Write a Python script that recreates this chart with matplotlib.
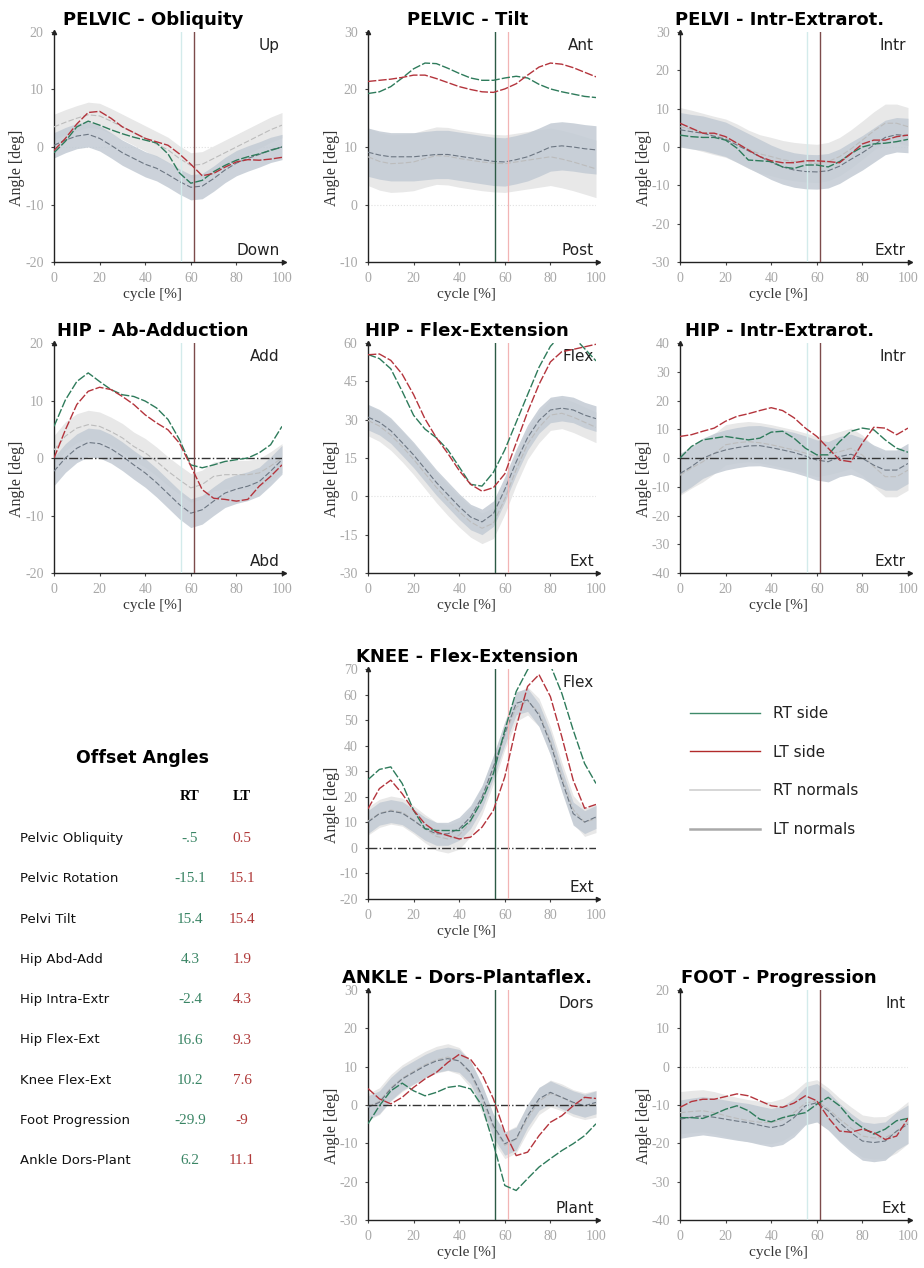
import matplotlib
matplotlib.use('Agg')
import matplotlib.pyplot as plt
from matplotlib.lines import Line2D
import numpy as np

######## ######## DATA ######## ########

# gait cycle samples [%]
cycle = list(range(0, 101, 5))
toe_off = [55.5, 61.5]   # RT, LT

# pelvic obliquity
obl_rt = [-1.0, 1.0, 3.5, 4.5, 3.8, 3.0, 2.3, 1.7, 1.2, 0.7, -1.2, -4.5, -6.3, -5.8, -4.3, -3.2, -2.3, -1.7, -1.2, -0.6, 0.0]
obl_lt = [-0.6, 1.5, 4.0, 6.0, 6.2, 5.0, 3.5, 2.5, 1.5, 0.9, 0.3, -1.2, -3.0, -5.0, -4.6, -3.5, -2.6, -2.2, -2.3, -2.1, -1.8]
obl_nrt = [3.5, 4.3, 5.0, 5.6, 5.4, 4.5, 3.5, 2.5, 1.5, 0.5, -0.5, -2.0, -3.2, -3.0, -2.0, -1.0, 0.0, 1.0, 2.0, 3.0, 3.8]
obl_nlt = [0.3, 1.2, 1.9, 2.2, 1.5, 0.3, -1.0, -2.0, -3.0, -3.7, -4.8, -6.0, -7.0, -6.8, -5.5, -4.0, -2.8, -2.0, -1.3, -0.5, 0.0]

# pelvic tilt
tilt_rt = [19.3, 19.6, 20.5, 22.0, 23.6, 24.6, 24.5, 23.7, 22.8, 22.0, 21.6, 21.6, 22.0, 22.3, 22.0, 20.9, 20.1, 19.6, 19.2, 18.8, 18.6]
tilt_lt = [21.4, 21.6, 21.8, 22.1, 22.5, 22.5, 21.9, 21.2, 20.5, 20.0, 19.6, 19.5, 20.1, 21.0, 22.5, 23.9, 24.6, 24.4, 23.8, 23.0, 22.2]
tilt_nrt = [8.3, 7.5, 7.1, 7.2, 7.4, 8.0, 8.5, 8.4, 8.0, 7.7, 7.4, 7.2, 7.1, 7.4, 7.7, 8.0, 8.3, 7.9, 7.4, 6.8, 6.2]
tilt_nlt = [9.1, 8.6, 8.3, 8.3, 8.3, 8.5, 8.7, 8.7, 8.4, 8.1, 7.8, 7.5, 7.4, 7.8, 8.3, 9.1, 10.0, 10.2, 10.0, 9.7, 9.5]

# pelvic rotation
prot_rt = [3.1, 2.7, 2.5, 2.5, 1.8, -0.3, -3.4, -3.6, -3.8, -5.2, -5.6, -4.7, -4.7, -5.2, -3.8, -1.7, 0.0, 0.8, 1.0, 1.4, 2.0]
prot_lt = [6.2, 4.9, 3.6, 3.6, 2.7, 1.0, -0.8, -2.5, -3.6, -4.1, -4.1, -3.6, -3.6, -3.8, -4.1, -1.7, 0.8, 1.8, 1.8, 2.7, 3.1]
prot_nrt = [5.3, 4.6, 3.8, 3.0, 2.3, 1.0, -0.6, -1.8, -2.5, -3.3, -3.8, -4.1, -4.3, -3.8, -2.5, -0.5, 1.8, 4.2, 6.2, 6.2, 5.3]
prot_nlt = [4.5, 4.0, 3.6, 2.8, 2.0, 0.5, -1.0, -2.5, -4.0, -5.2, -6.0, -6.4, -6.5, -6.2, -5.0, -3.2, -1.5, 0.5, 2.5, 3.2, 3.0]

# hip ab-adduction
hab_rt = [5.5, 10.1, 13.3, 14.8, 13.3, 11.9, 11.0, 10.7, 9.9, 8.7, 6.7, 3.2, -1.2, -1.7, -1.2, -0.6, -0.3, 0.0, 0.9, 2.3, 5.5]
hab_lt = [0.0, 4.9, 9.3, 11.6, 12.3, 11.9, 10.7, 9.3, 7.5, 6.1, 4.9, 2.6, -1.4, -5.5, -7.0, -7.2, -7.5, -7.2, -4.9, -3.2, -1.2]
hab_nrt = [1.4, 3.8, 5.2, 5.8, 5.5, 4.6, 3.5, 2.0, 0.9, -0.6, -2.3, -3.8, -5.2, -4.6, -3.2, -2.9, -2.9, -2.9, -2.6, -1.4, 0.0]
hab_nlt = [-2.3, 0.0, 1.7, 2.7, 2.5, 1.6, 0.3, -1.2, -2.6, -4.3, -6.2, -8.1, -9.6, -9.0, -7.5, -6.1, -5.4, -4.9, -4.1, -2.3, -0.3]

# hip flex-extension
hfl_rt = [55.5, 53.9, 49.9, 41.1, 31.7, 26.3, 22.9, 18.2, 11.5, 4.7, 4.0, 9.4, 18.2, 29.0, 39.8, 50.5, 58.7, 63.5, 62.5, 57.8, 53.0]
hfl_lt = [55.4, 55.7, 53.2, 47.8, 39.8, 30.3, 22.9, 16.8, 10.1, 4.7, 2.0, 3.4, 8.8, 20.9, 33.0, 43.8, 52.6, 56.6, 57.5, 58.5, 59.5]
hfl_nrt = [29.7, 27.5, 24.0, 19.5, 14.5, 9.0, 3.5, -1.5, -6.0, -10.0, -12.5, -10.5, -1.0, 10.5, 20.5, 27.0, 31.8, 32.5, 31.0, 29.0, 27.0]
hfl_nlt = [31.0, 29.0, 25.7, 21.0, 16.2, 10.8, 5.4, 0.7, -4.0, -8.1, -10.0, -6.8, 2.7, 13.5, 23.0, 29.7, 33.8, 34.5, 33.8, 31.8, 30.4]

# hip rotation
hrot_rt = [0.0, 4.0, 6.3, 6.9, 7.5, 6.9, 6.3, 6.9, 9.0, 9.3, 6.9, 3.4, 1.1, 1.1, 5.7, 9.3, 10.4, 9.8, 6.3, 3.4, 2.0]
hrot_lt = [7.5, 8.1, 9.3, 10.4, 12.8, 14.5, 15.4, 16.5, 17.5, 16.5, 14.0, 10.4, 7.5, 3.4, -0.7, -1.3, 5.2, 10.7, 10.4, 8.1, 10.4]
hrot_nrt = [-6.0, -3.5, -1.3, 1.5, 4.6, 5.3, 5.7, 5.3, 4.6, 3.7, 2.8, 1.7, 0.5, 1.2, 2.2, 3.4, 1.0, -3.0, -6.5, -6.5, -4.2]
hrot_nlt = [-5.4, -3.0, -0.1, 1.6, 2.8, 3.6, 4.2, 4.3, 3.6, 2.8, 1.9, 0.7, -0.7, -1.3, 0.5, 1.3, -0.1, -2.5, -4.2, -4.2, -1.9]

# knee flex-extension
knee_rt = [26.7, 30.7, 31.7, 25.2, 14.7, 7.5, 6.8, 6.8, 6.8, 10.7, 18.6, 29.1, 46.1, 61.2, 69.7, 73.0, 71.5, 60.5, 46.1, 33.0, 25.2]
knee_lt = [15.3, 23.2, 26.5, 21.2, 14.7, 9.4, 6.2, 4.8, 3.5, 4.2, 8.1, 14.7, 27.8, 47.4, 63.2, 67.8, 59.2, 43.5, 26.5, 15.5, 17.0]
knee_nrt = [10.5, 13.5, 14.8, 14.0, 11.0, 7.5, 4.5, 3.5, 5.0, 10.0, 18.5, 30.5, 44.0, 55.0, 57.5, 53.0, 42.0, 28.0, 15.0, 10.0, 11.5]
knee_nlt = [10.1, 13.4, 14.4, 13.6, 10.7, 7.5, 5.5, 5.5, 7.5, 12.1, 19.9, 31.7, 44.8, 56.6, 57.9, 52.0, 40.9, 26.5, 13.4, 10.1, 12.1]

# ankle dors-plantarflexion
ank_rt = [-4.9, -0.2, 3.7, 5.7, 3.7, 2.4, 3.3, 4.6, 5.0, 4.2, -0.2, -10.1, -21.0, -22.3, -19.2, -16.2, -14.0, -11.9, -10.1, -8.0, -4.9]
ank_lt = [4.3, 1.6, 0.3, 2.0, 4.6, 6.8, 8.5, 11.1, 13.2, 11.9, 8.0, 1.6, -7.1, -13.2, -12.3, -8.0, -4.5, -2.8, -0.2, 2.0, 1.7]
ank_nrt = [-0.5, 1.0, 4.5, 7.0, 8.8, 10.5, 11.8, 12.5, 11.5, 8.0, 1.5, -6.0, -10.5, -9.0, -3.5, 1.0, 3.0, 2.0, 0.5, -0.3, 0.3]
ank_nlt = [-0.6, 0.7, 4.2, 6.8, 8.5, 10.2, 11.5, 12.1, 11.5, 8.5, 2.4, -5.4, -10.1, -8.8, -2.8, 1.6, 3.3, 2.0, 0.7, -0.2, 0.7]

# foot progression
foot_rt = [-13.3, -13.3, -13.5, -12.4, -11.1, -10.2, -11.5, -13.7, -14.4, -13.3, -12.6, -12.0, -9.8, -8.0, -10.2, -13.7, -15.9, -17.6, -16.3, -14.1, -13.5]
foot_lt = [-10.6, -9.1, -8.5, -8.5, -7.8, -7.1, -7.6, -8.9, -10.2, -10.6, -9.5, -7.6, -8.9, -13.3, -16.8, -17.1, -16.3, -17.2, -19.0, -18.1, -13.5]
foot_nrt = [-12.0, -11.7, -11.5, -12.0, -12.8, -13.5, -14.1, -14.5, -14.6, -13.8, -12.0, -9.5, -8.9, -11.0, -13.7, -16.0, -18.1, -18.6, -18.5, -17.0, -14.6]
foot_nlt = [-13.7, -13.2, -12.8, -13.2, -13.7, -14.2, -14.6, -15.3, -15.9, -15.3, -13.3, -10.2, -9.4, -11.5, -14.6, -17.2, -19.4, -19.8, -19.4, -16.8, -15.0]

# normal band half widths per panel (obl, tilt, prot, hab, hfl, hrot, knee, ank, foot)
sd_rt = [2.2, 5.0, 5.0, 2.5, 6.0, 7.0, 5.5, 3.5, 5.5]
sd_lt = [2.2, 4.2, 4.5, 2.5, 5.0, 7.0, 4.5, 3.0, 5.0]

offset_names = ['Pelvic Obliquity', 'Pelvic Rotation', 'Pelvi Tilt', 'Hip Abd-Add', 'Hip Intra-Extr',
                'Hip Flex-Ext', 'Knee Flex-Ext', 'Foot Progression', 'Ankle Dors-Plant']
offset_rt = ['-.5', '-15.1', '15.4', '4.3', '-2.4', '16.6', '10.2', '-29.9', '6.2']
offset_lt = ['0.5', '15.1', '15.4', '1.9', '4.3', '9.3', '7.6', '-9', '11.1']

legend_labels = ['RT side', 'LT side', 'RT normals', 'LT normals']

######## ######## PLOT ######## ########

W, H = 924, 1268
GREEN = '#2e7b5b'
RED = '#b4343c'
SERIF = 'Liberation Serif'

fig = plt.figure(figsize=(W / 100, H / 100), dpi=100)


def px_axes(left, top, w=228, h=230):
    return fig.add_axes([left / W, 1 - (top + h) / H, w / W, h / H])


def draw_panel(ax, title, rt, lt, nrt, nlt, sdr, sdl, ylo, yhi, ystep, up, down, dashdot_zero, strong_rt):
    x = np.array(cycle)
    nrt = np.array(nrt)
    nlt = np.array(nlt)
    ax.fill_between(x, nrt - sdr, nrt + sdr, color='#e8e8e8', lw=0, zorder=1)
    ax.fill_between(x, nlt - sdl, nlt + sdl, color='#c3cbd4', alpha=0.85, lw=0, zorder=2)
    ax.plot(x, nrt, color='#bcbcbc', lw=0.8, ls=(0, (5, 2)), zorder=3)
    ax.plot(x, nlt, color='#6c7682', lw=0.8, ls=(0, (5, 2)), zorder=3)

    if dashdot_zero:
        ax.axhline(0, color='#333333', lw=1.0, ls='-.', zorder=4)
    else:
        ax.axhline(0, color='#e0e0e0', lw=0.8, ls=':', zorder=0)

    if strong_rt:
        ax.axvline(toe_off[0], color='#2c5a45', lw=1.0, zorder=4)
        ax.axvline(toe_off[1], color='#f2b4b4', lw=0.9, zorder=4)
    else:
        ax.axvline(toe_off[0], color='#d3ebeb', lw=1.0, zorder=4)
        ax.axvline(toe_off[1], color='#7c4b4b', lw=1.0, zorder=4)

    ax.plot(x, rt, color=GREEN, lw=1.0, ls=(0, (6, 1.5)), zorder=5)
    ax.plot(x, lt, color=RED, lw=1.0, ls=(0, (6, 1.5)), zorder=5)

    ax.set_xlim(0, 100)
    ax.set_ylim(ylo, yhi)
    ax.set_xticks(range(0, 101, 20))
    ax.set_yticks(np.arange(ylo, yhi + 0.1, ystep))
    ax.set_yticklabels(['%d' % v for v in np.arange(ylo, yhi + 0.1, ystep)])
    for s in ['top', 'right']:
        ax.spines[s].set_visible(False)
    for s in ['left', 'bottom']:
        ax.spines[s].set_color('#222222')
        ax.spines[s].set_linewidth(1.0)
    ax.tick_params(length=2.5, width=0.8, color='#444444', labelcolor='#a8a8a8', pad=5)
    for lab in ax.get_xticklabels() + ax.get_yticklabels():
        lab.set_fontfamily(SERIF)
        lab.set_fontsize(10)
    # small arrows at the axis ends
    ax.plot(1.01, 0, marker='>', color='#222222', ms=3, transform=ax.transAxes, clip_on=False)
    ax.plot(0, 1.0, marker='^', color='#222222', ms=3, transform=ax.transAxes, clip_on=False)

    ax.set_xlabel('cycle [%]', fontfamily=SERIF, fontsize=11, color='#333333')
    ax.xaxis.set_label_coords(0.43, -0.115)
    ax.set_ylabel('Angle [deg]', fontfamily=SERIF, fontsize=11.5, color='#333333')
    ax.yaxis.set_label_coords(-0.125, 0.41)

    ax.text(0.435, 1.03, title, transform=ax.transAxes, ha='center', va='baseline',
            fontsize=13, fontweight='bold', color='black')
    ax.text(0.99, 0.922, up, transform=ax.transAxes, ha='right', va='baseline', fontsize=11, color='#222222')
    ax.text(0.99, 0.03, down, transform=ax.transAxes, ha='right', va='baseline', fontsize=11, color='#222222')


cols = [54, 368, 680]
rows = [32, 343, 669, 990]

draw_panel(px_axes(cols[0], rows[0]), 'PELVIC - Obliquity', obl_rt, obl_lt, obl_nrt, obl_nlt,
           sd_rt[0], sd_lt[0], -20, 20, 10, 'Up', 'Down', False, False)
draw_panel(px_axes(cols[1], rows[0]), 'PELVIC - Tilt', tilt_rt, tilt_lt, tilt_nrt, tilt_nlt,
           sd_rt[1], sd_lt[1], -10, 30, 10, 'Ant', 'Post', False, True)
draw_panel(px_axes(cols[2], rows[0]), 'PELVI - Intr-Extrarot.', prot_rt, prot_lt, prot_nrt, prot_nlt,
           sd_rt[2], sd_lt[2], -30, 30, 10, 'Intr', 'Extr', False, False)
draw_panel(px_axes(cols[0], rows[1]), 'HIP - Ab-Adduction', hab_rt, hab_lt, hab_nrt, hab_nlt,
           sd_rt[3], sd_lt[3], -20, 20, 10, 'Add', 'Abd', True, False)
draw_panel(px_axes(cols[1], rows[1]), 'HIP - Flex-Extension', hfl_rt, hfl_lt, hfl_nrt, hfl_nlt,
           sd_rt[4], sd_lt[4], -30, 60, 15, 'Flex', 'Ext', False, True)
draw_panel(px_axes(cols[2], rows[1]), 'HIP - Intr-Extrarot.', hrot_rt, hrot_lt, hrot_nrt, hrot_nlt,
           sd_rt[5], sd_lt[5], -40, 40, 10, 'Intr', 'Extr', True, False)
draw_panel(px_axes(cols[1], rows[2]), 'KNEE - Flex-Extension', knee_rt, knee_lt, knee_nrt, knee_nlt,
           sd_rt[6], sd_lt[6], -20, 70, 10, 'Flex', 'Ext', True, True)
draw_panel(px_axes(cols[1], rows[3]), 'ANKLE - Dors-Plantaflex.', ank_rt, ank_lt, ank_nrt, ank_nlt,
           sd_rt[7], sd_lt[7], -30, 30, 10, 'Dors', 'Plant', True, True)
draw_panel(px_axes(cols[2], rows[3]), 'FOOT - Progression', foot_rt, foot_lt, foot_nrt, foot_nlt,
           sd_rt[8], sd_lt[8], -40, 20, 10, 'Int', 'Ext', False, False)


# offset angle table
def fx(x):
    return x / W


def fy(y):
    return 1 - y / H


fig.text(fx(142), fy(763), 'Offset Angles', ha='center', va='baseline', fontsize=12.5, fontweight='bold')
fig.text(fx(190), fy(800), 'RT', ha='center', va='baseline', fontsize=10.5, fontweight='bold', fontfamily=SERIF)
fig.text(fx(242), fy(800), 'LT', ha='center', va='baseline', fontsize=10.5, fontweight='bold', fontfamily=SERIF)
for i, name in enumerate(offset_names):
    yb = 842 + i * 40.3
    fig.text(fx(20), fy(yb), name, ha='left', va='baseline', fontsize=9.5, color='#111111')
    fig.text(fx(190), fy(yb), offset_rt[i], ha='center', va='baseline', fontsize=11,
             fontfamily=SERIF, color='#3a8565')
    fig.text(fx(242), fy(yb), offset_lt[i], ha='center', va='baseline', fontsize=11,
             fontfamily=SERIF, color='#b03a3a')

# legend
handles = [Line2D([], [], color='#3f8a6a', lw=1.0),
           Line2D([], [], color='#b22a2a', lw=1.0),
           Line2D([], [], color='#d0d0d0', lw=1.2),
           Line2D([], [], color='#a9a9a9', lw=1.8)]
fig.legend(handles, legend_labels, loc='upper left', bbox_to_anchor=(fx(690), fy(706)),
           frameon=False, fontsize=11, handlelength=4.6, handletextpad=0.85,
           labelspacing=1.55, borderpad=0, borderaxespad=0, labelcolor='#222222')

fig.savefig('out.png', dpi=100)
